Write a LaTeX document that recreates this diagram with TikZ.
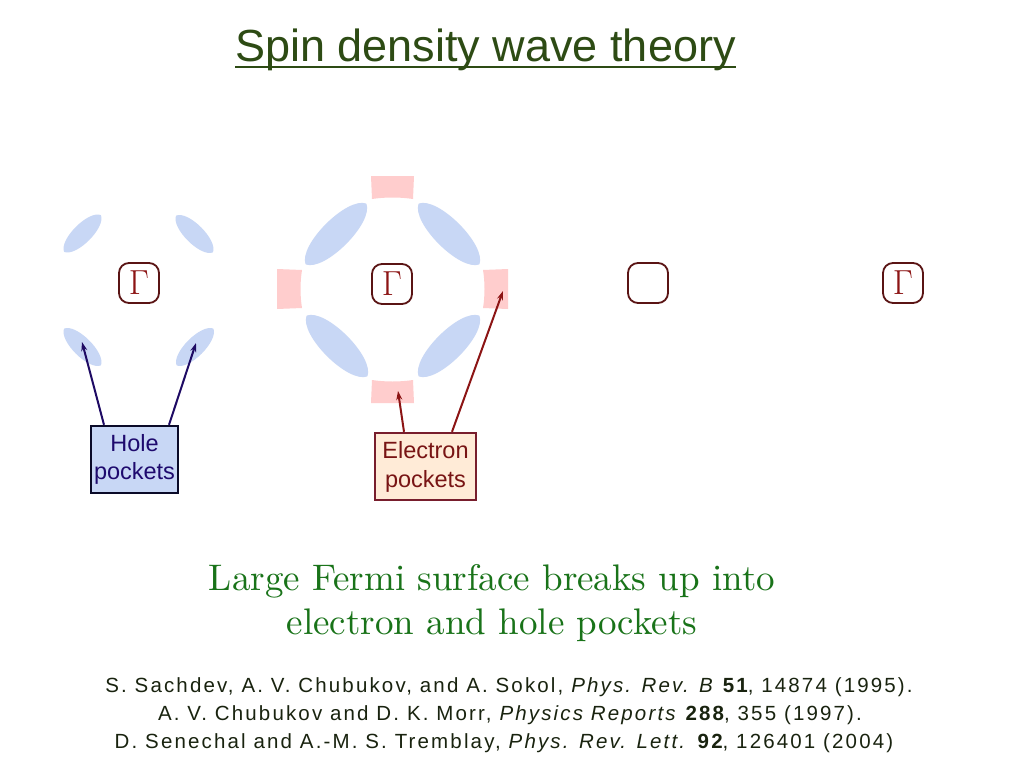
\documentclass[tikz,border=0pt]{standalone}
\usepackage{fontspec}
\newfontfamily\arial{Liberation Sans}
\newfontfamily\arialref{Liberation Sans}[LetterSpace=10.5]
\newfontfamily\lmten{lmroman10-regular}[Extension=.otf]
\usetikzlibrary{arrows.meta}
\definecolor{titlegreen}{RGB}{45,75,20}
\definecolor{fsgreen}{RGB}{25,115,25}
\definecolor{reftext}{RGB}{25,35,15}
\definecolor{holeblue}{RGB}{200,215,245}
\definecolor{holetext}{RGB}{30,10,110}
\definecolor{holeborder}{RGB}{10,10,40}
\definecolor{holearrowc}{RGB}{30,10,100}
\definecolor{elpink}{RGB}{255,205,205}
\definecolor{elpeach}{RGB}{255,235,215}
\definecolor{elborder}{RGB}{120,30,45}
\definecolor{eltext}{RGB}{120,20,20}
\definecolor{elarrowc}{RGB}{140,20,20}
\definecolor{gborder}{RGB}{90,20,20}
\definecolor{gtext}{RGB}{140,20,20}
% lens: centre, canvas angle, half length, control offset
\newcommand\lensfill[4]{%
  \begin{scope}[shift={(#1)}, rotate=#2]
    \fill[lens] (-#3,0) .. controls (-0.8*#3,#4) and (0.8*#3,#4) .. (#3,0)
       .. controls (0.8*#3,-#4) and (-0.8*#3,-#4) .. (-#3,0) -- cycle;
  \end{scope}}
\newcommand\gsym{\scalebox{1.4}{$\Gamma$}}
\tikzset{
  gbox/.style={draw=gborder, line width=1.8pt, rounded corners=10pt, minimum width=40pt, minimum height=40pt, inner sep=0pt, text=gtext, font=\fontsize{24.88}{25}\selectfont},
  lens/.style={fill=holeblue, draw=none},
  epocket/.style={fill=elpink, draw=none},
  holelabel/.style={draw=holeborder, fill=holeblue, line width=2.4pt, text=holetext, align=center, minimum width=87pt, minimum height=67pt, inner sep=0pt, font=\arial\fontsize{23.5}{28}\selectfont},
  ellabel/.style={draw=elborder, fill=elpeach, line width=2.4pt, text=eltext, align=center, minimum width=101pt, minimum height=67pt, inner sep=0pt, font=\arial\fontsize{23.5}{29}\selectfont},
  holearrow/.style={draw=holearrowc, line width=2pt, -{Stealth[length=9pt,width=6pt]}},
  elarrow/.style={draw=elarrowc, line width=2pt, -{Stealth[length=9pt,width=6pt]}},
  reference/.style={text=reftext, inner sep=0pt, anchor=base, font=\arialref\fontsize{20.5}{24}\selectfont},
  fstext/.style={text=fsgreen, inner sep=0pt, anchor=base, font=\lmten\fontsize{37}{44}\selectfont},
}
\begin{document}
\begin{tikzpicture}[x=1pt,y=-1pt]
\useasboundingbox (0,0) rectangle (1024,768);
\fill[white] (0,0) rectangle (1024,768);

% title
\node[text=titlegreen, inner sep=0pt, anchor=base, font=\arial\fontsize{45}{50}\selectfont] (title) at (485.5,62) {Spin density wave theory};
\draw[titlegreen, line width=2.6pt] ([yshift=-5pt]title.base west) -- ([yshift=-5pt]title.base east);

% panel 1: hole pockets
\lensfill{82.5,233.5}{45}{26}{12.5}
\lensfill{194.5,234}{-45}{26}{12.5}
\lensfill{82.5,347}{-45}{26}{12.5}
\lensfill{195,347}{45}{26}{12.5}
\node[gbox] (g1) at (139,283) {\gsym};

% panel 2: large Fermi surface pieces
\lensfill{336,234}{45}{43}{19}
\lensfill{449,234}{-45}{43}{19}
\lensfill{337,346}{-45}{43}{19}
\lensfill{449,346}{45}{43}{19}
\fill[epocket] (371,176) -- (414,176) -- (413,199) .. controls (400,197) and (385,197) .. (372,199) -- cycle;
\fill[epocket] (371,403) -- (414,403) -- (413,380) .. controls (400,382) and (385,382) .. (372,380) -- cycle;
\fill[epocket] (277,269) -- (277,309) -- (302,308) .. controls (300,296) and (300,282) .. (302,270) -- cycle;
\fill[epocket] (508,269) -- (508,309) -- (483,308) .. controls (485,296) and (485,282) .. (483,270) -- cycle;
\node[gbox] (g2) at (392,284) {\gsym};

% panel 3 and 4
\node[gbox] (g3) at (648,283) {};
\node[gbox] (g4) at (903,283) {\gsym};

% labels
\node[holelabel] (hole) at (134.5,459.5) {Hole\\pockets};
\node[ellabel] (elec) at (425.5,466.5) {Electron\\pockets};

\coordinate (hp1) at (82,342);
\coordinate (hp2) at (196,343);
\coordinate (ep1) at (398,391);
\coordinate (ep2) at (503,291);
\draw[holearrow] ([xshift=-30.5pt]hole.north) -- (hp1);
\draw[holearrow] ([xshift=34.5pt]hole.north) -- (hp2);
\draw[elarrow] ([xshift=-21.5pt]elec.north) -- (ep1);
\draw[elarrow] ([xshift=26.5pt]elec.north) -- (ep2);

% statement
\node[fstext] (fs1) at (492,590) {Large Fermi surface breaks up into};
\node[fstext] (fs2) at (492,634) {electron and hole pockets};

% references
\node[reference] (r1) at (509,692) {S. Sachdev, A. V. Chubukov, and A. Sokol, \textit{Phys. Rev. B} \textbf{51}, 14874 (1995).};
\node[reference] (r2) at (510,720) {A. V. Chubukov and D. K. Morr, \textit{Physics Reports} \textbf{288}, 355 (1997).};
\node[reference] (r3) at (504,748) {D. Senechal and A.-M. S. Tremblay, \textit{Phys. Rev. Lett.} \textbf{92}, 126401 (2004)};
\end{tikzpicture}
\end{document}
